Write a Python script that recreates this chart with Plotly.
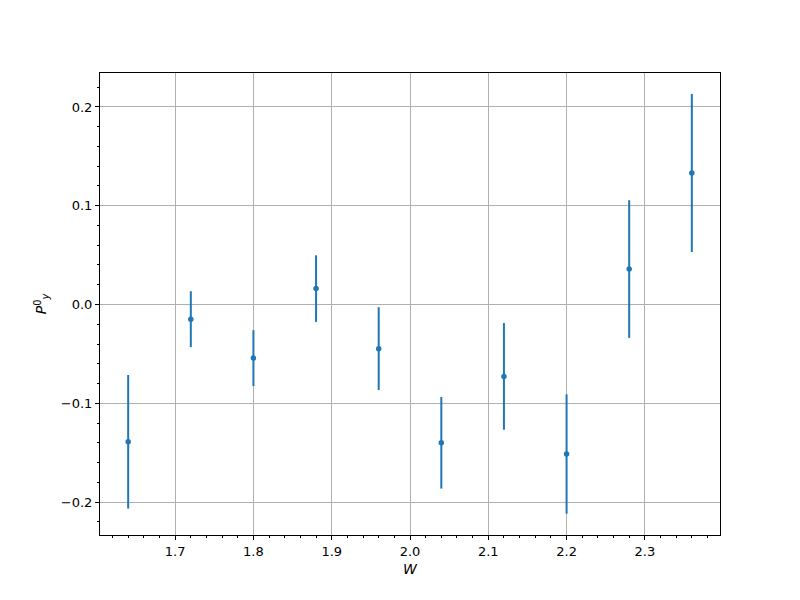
import plotly.graph_objects as go

W = [1.64, 1.72, 1.80, 1.88, 1.96, 2.04, 2.12, 2.20, 2.28, 2.36]
P = [-0.139, -0.0149, -0.0543, 0.0161, -0.0447, -0.140, -0.0728, -0.1514, 0.0359, 0.1332]
P_err = [0.0676, 0.0283, 0.0283, 0.0337, 0.042, 0.0464, 0.054, 0.0604, 0.0697, 0.080]

fig = go.Figure()
fig.add_trace(go.Scatter(
    x=W, y=P, mode="markers",
    marker=dict(color="#1f77b4", size=5.5),
    error_y=dict(type="data", array=P_err, visible=True, color="#1f77b4", thickness=2, width=0),
    showlegend=False,
))

axis_common = dict(
    showline=True, linecolor="black", linewidth=1, mirror=True,
    ticks="outside", ticklen=4, tickcolor="black", tickwidth=1,
    showgrid=True, gridcolor="#b0b0b0", gridwidth=1,
    zeroline=False,
    tickfont=dict(family="DejaVu Sans", size=13, color="black"),
    minor=dict(ticks="outside", ticklen=2, tickcolor="black", dtick=0.02, showgrid=False),
)

fig.update_xaxes(range=[1.604, 2.396], dtick=0.1, tick0=0, tickformat=".1f",
                 title=dict(text="<i>W</i>", font=dict(family="DejaVu Sans", size=14, color="black"), standoff=6),
                 **axis_common)
fig.update_yaxes(range=[-0.2334, 0.2344], dtick=0.1, tick0=0, tickformat=".1f",
                 title=dict(text="<i>P</i><sup>0</sup><sub><i>y</i></sub>", font=dict(family="DejaVu Sans", size=14, color="black"), standoff=10),
                 **axis_common)

fig.update_layout(
    width=800, height=600,
    margin=dict(l=92, r=88, t=65, b=73),
    paper_bgcolor="white", plot_bgcolor="white",
    font=dict(family="DejaVu Sans"),
)

fig.write_html("out.html")
